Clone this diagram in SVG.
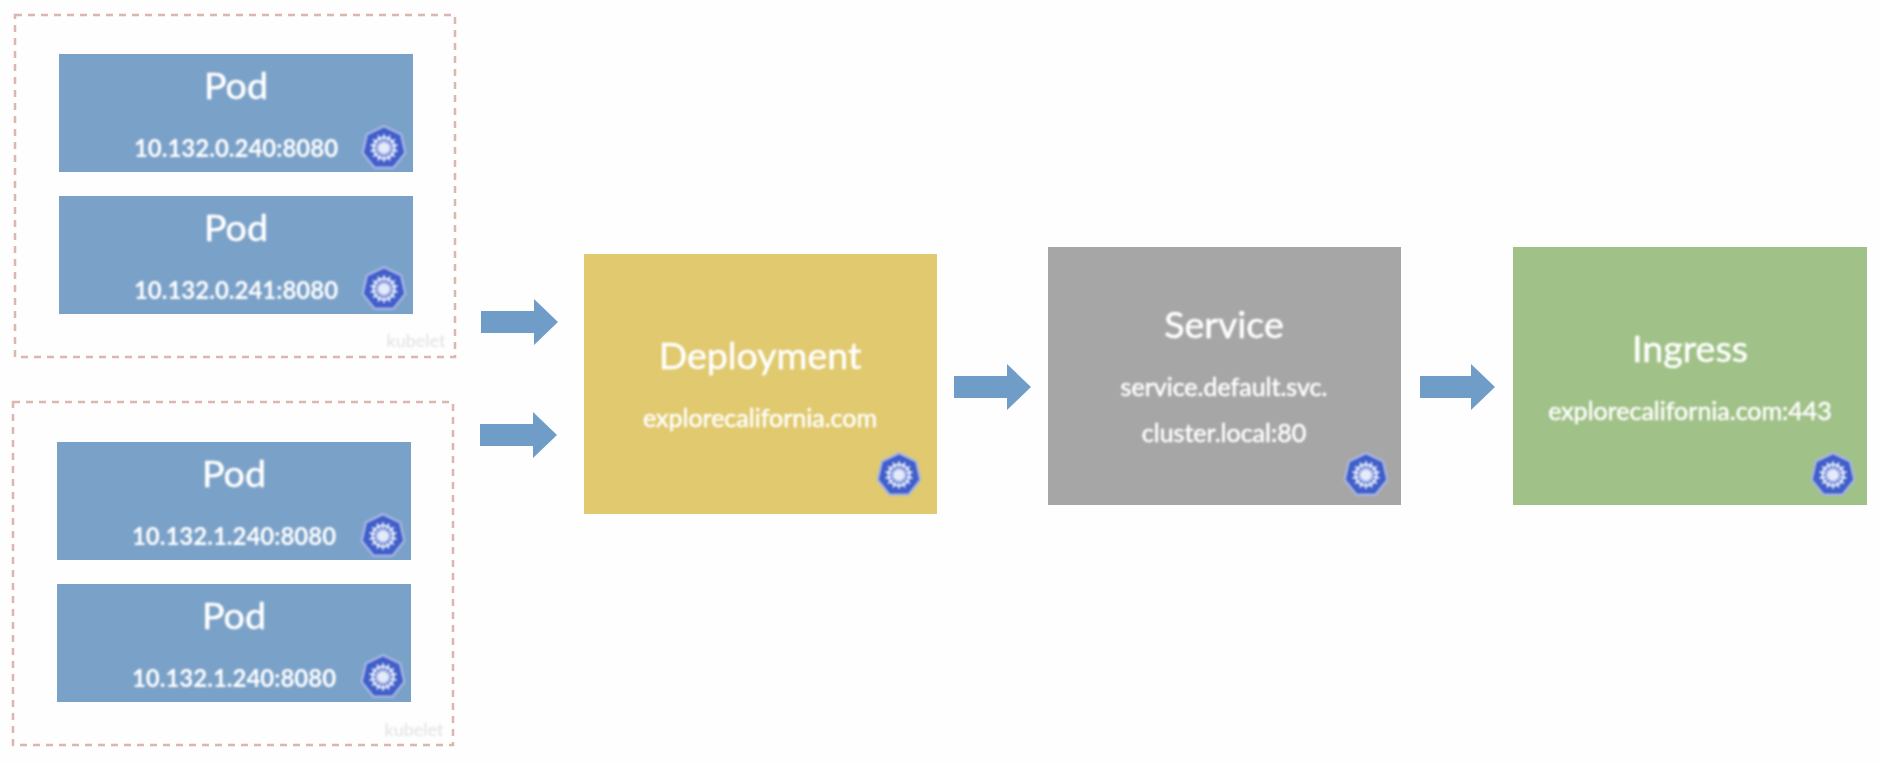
<svg xmlns="http://www.w3.org/2000/svg" width="1880" height="764" viewBox="0 0 1880 764">
<style>
text{font-family:"Lato","Noto Sans","Liberation Sans",sans-serif;fill:#fff;text-anchor:middle;filter:url(#soft)}
.t{font-size:37.5px;stroke:#fff;stroke-width:.5}
.s{font-size:25px;stroke:#fff;stroke-width:.5}
.ip{font-size:24px;font-weight:700}
.pod{fill:#7aa1c8}
.host{fill:none;stroke:#dcb6b1;stroke-width:2.5;stroke-dasharray:7 6}
.wm{font-size:18px;fill:#e2e2e2;font-weight:400;stroke:none;filter:url(#softer)}
.arrow{fill:#6f9dc7}
</style>
<defs>
<filter id="soft" x="-5%" y="-20%" width="110%" height="140%"><feGaussianBlur stdDeviation="0.8"/></filter>
<filter id="softer" x="-5%" y="-20%" width="110%" height="140%"><feGaussianBlur stdDeviation="1.1"/></filter>
<g id="k8s">
<polygon points="0,-22 17.2,-13.7 21.5,4.9 9.5,19.8 -9.5,19.8 -21.5,4.9 -17.2,-13.7" fill="#3f5fc9" stroke="#a9b9ea" stroke-width="2" stroke-linejoin="round" filter="url(#soft)"/>
<g fill="none" stroke="#e6ebfa" filter="url(#soft)">
<circle r="10.5" stroke-width="2.2"/>
<circle r="4" stroke-width="3"/>
<path d="M0,-14V14M11,-8.7L-11,8.7M13.6,3.1L-13.6,-3.1M6,12.6L-6,-12.6M-6,12.6L6,-12.6M-13.6,3.1L13.6,-3.1M-11,-8.7L11,8.7" stroke-width="1.6"/>
</g>
</g>
</defs>
<rect width="1880" height="764" fill="#fefefe"/>
<g id="connectors">
<polygon class="arrow" points="481,311 534,311 534,299 558,322 534,345 534,333 481,333"/>
<polygon class="arrow" points="480,424 533,424 533,412 557,435 533,458 533,446 480,446"/>
<polygon class="arrow" points="954,376 1007,376 1007,364 1031,387 1007,410 1007,398 954,398"/>
<polygon class="arrow" points="1420,376 1471,376 1471,364 1495,387 1471,410 1471,398 1420,398"/>
</g>
<g id="host-1">
<rect class="host" x="15" y="15" width="440" height="342"/>
<text class="wm" x="416" y="347">kubelet</text>
</g>
<g id="host-2">
<rect class="host" x="13" y="402" width="440" height="343"/>
<text class="wm" x="414" y="736">kubelet</text>
</g>
<g id="pod-1">
<rect class="pod" x="59" y="54" width="354" height="118"/>
<text class="t" x="236" y="99">Pod</text>
<text class="ip" x="236" y="157">10.132.0.240:8080</text>
<use href="#k8s" x="384" y="148"/>
</g>
<g id="pod-2">
<rect class="pod" x="59" y="196" width="354" height="118"/>
<text class="t" x="236" y="241">Pod</text>
<text class="ip" x="236" y="299">10.132.0.241:8080</text>
<use href="#k8s" x="384" y="289"/>
</g>
<g id="pod-3">
<rect class="pod" x="57" y="442" width="354" height="118"/>
<text class="t" x="234" y="487">Pod</text>
<text class="ip" x="234" y="545">10.132.1.240:8080</text>
<use href="#k8s" x="383" y="536"/>
</g>
<g id="pod-4">
<rect class="pod" x="57" y="584" width="354" height="118"/>
<text class="t" x="234" y="629">Pod</text>
<text class="ip" x="234" y="687">10.132.1.240:8080</text>
<use href="#k8s" x="383" y="677"/>
</g>
<g id="deployment">
<rect x="584" y="254" width="353" height="260" fill="#e0c96e"/>
<text class="t" x="760" y="369">Deployment</text>
<text class="s" x="760" y="427">explorecalifornia.com</text>
<use href="#k8s" x="899" y="475"/>
</g>
<g id="service">
<rect x="1048" y="247" width="353" height="258" fill="#a6a6a6"/>
<text class="t" x="1224" y="338">Service</text>
<text class="s" x="1224" y="396">service.default.svc.</text>
<text class="s" x="1224" y="442">cluster.local:80</text>
<use href="#k8s" x="1366" y="475"/>
</g>
<g id="ingress">
<rect x="1513" y="247" width="354" height="258" fill="#a0c187"/>
<text class="t" x="1690" y="362">Ingress</text>
<text class="s" x="1690" y="420">explorecalifornia.com:443</text>
<use href="#k8s" x="1833" y="475"/>
</g>
</svg>
